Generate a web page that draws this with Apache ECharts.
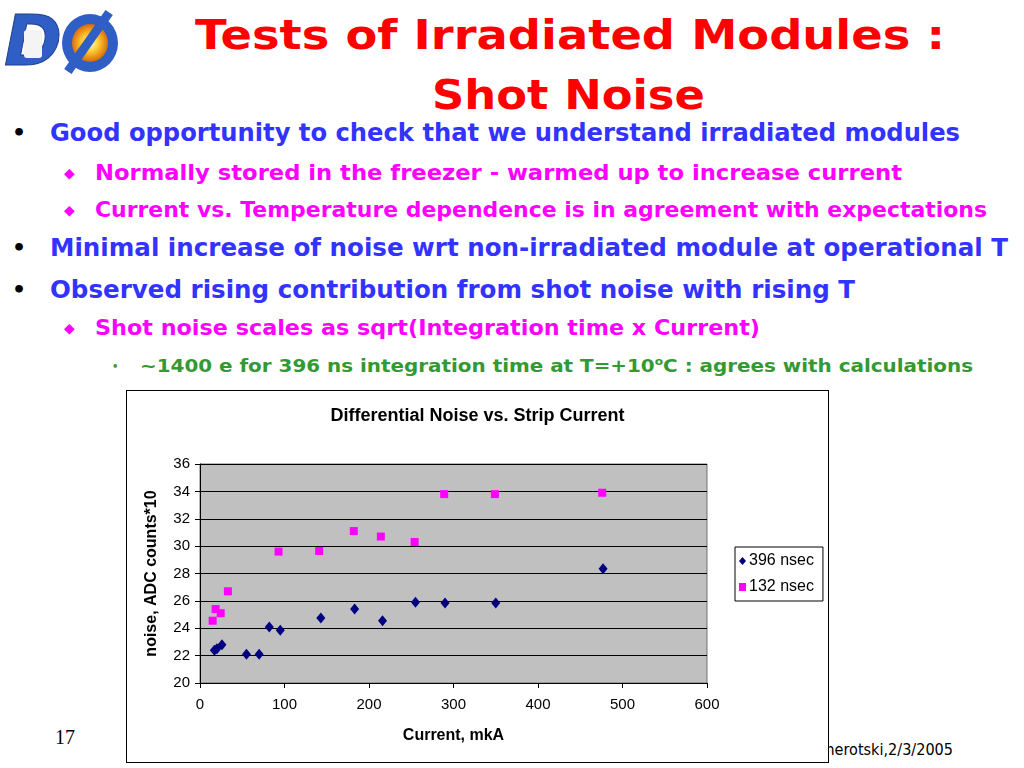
<!DOCTYPE html>
<html>
<head>
<meta charset="utf-8">
<script src="https://cdn.jsdelivr.net/npm/echarts@6/dist/echarts.min.js"></script>
<style>
html,body{margin:0;padding:0;background:#fff;}
body{width:1024px;height:768px;position:relative;overflow:hidden;font-family:"DejaVu Sans",sans-serif;}
.t{position:absolute;white-space:nowrap;font-weight:bold;transform-origin:0 50%;}
#chartBox{position:absolute;left:126px;top:390px;width:701px;height:371px;border:1px solid #000;background:#fff;z-index:5;}
#chart{width:701px;height:371px;}
#logo{position:absolute;left:4px;top:8px;width:120px;height:68px;}
</style>
</head>
<body>
<div id="logo">
  <div style="position:absolute;left:0;top:-2px;font:italic bold 70px 'DejaVu Sans',sans-serif;color:#2f5fc4;line-height:70px;-webkit-text-stroke:1px #1d3f8f;">D</div>
  <div style="position:absolute;left:58px;top:6px;width:56px;height:58px;border-radius:50%;border:10px solid #2f5fc4;box-sizing:border-box;background:radial-gradient(circle,#fffbe0 0%,#ffd23a 30%,#e07a10 65%,#7a2a00 100%);"></div>
  <div style="position:absolute;left:80px;top:-2px;width:9px;height:72px;background:#2f5fc4;transform:rotate(35deg);"></div>
  <div style="position:absolute;left:20px;top:22px;width:18px;height:28px;background:#f4f4f4;border-radius:3px;"></div>
</div>

<div class="t" data-w="750" style="left:195px;top:14px;font-size:40px;line-height:42px;color:#ff0000;">Tests of Irradiated Modules :</div>
<div class="t" data-w="273" style="left:432px;top:74px;font-size:40px;line-height:42px;color:#ff0000;">Shot Noise</div>

<div class="t" style="left:12px;top:121px;font-size:22px;line-height:24px;color:#000;">•</div>
<div class="t" data-w="910" style="left:50px;top:119px;font-size:25px;line-height:28px;color:#3333ff;">Good opportunity to check that we understand irradiated modules</div>

<div class="t" style="left:64px;top:163px;font-size:14px;line-height:20px;color:#ff00ff;">◆</div>
<div class="t" data-w="807" style="left:95px;top:161px;font-size:21px;line-height:24px;color:#ff00ff;">Normally stored in the freezer - warmed up to increase current</div>

<div class="t" style="left:64px;top:200px;font-size:14px;line-height:20px;color:#ff00ff;">◆</div>
<div class="t" data-w="892" style="left:95px;top:198px;font-size:21px;line-height:24px;color:#ff00ff;">Current vs. Temperature dependence is in agreement with expectations</div>

<div class="t" style="left:12px;top:236px;font-size:22px;line-height:24px;color:#000;">•</div>
<div class="t" data-w="958" style="left:50px;top:234px;font-size:25px;line-height:28px;color:#3333ff;">Minimal increase of noise wrt non-irradiated module at operational T</div>

<div class="t" style="left:12px;top:278px;font-size:22px;line-height:24px;color:#000;">•</div>
<div class="t" data-w="805" style="left:50px;top:276px;font-size:25px;line-height:28px;color:#3333ff;">Observed rising contribution from shot noise with rising T</div>

<div class="t" style="left:64px;top:318px;font-size:14px;line-height:20px;color:#ff00ff;">◆</div>
<div class="t" data-w="665" style="left:95px;top:316px;font-size:21px;line-height:24px;color:#ff00ff;">Shot noise scales as sqrt(Integration time x Current)</div>

<div class="t" style="left:112px;top:360px;font-size:10px;line-height:14px;color:#339933;">•</div>
<div class="t" data-w="833" style="left:140px;top:351px;font-size:18px;line-height:22px;color:#339933;">~1400 e for 396 ns integration time at T=+10<sup style="font-size:11px;">o</sup>C : agrees with calculations</div>

<div class="t" style="left:55px;top:725px;font:20px 'Liberation Serif',serif;line-height:24px;color:#000;">17</div>
<div class="t" data-w="171" style="left:782px;top:740px;font-size:15px;line-height:20px;color:#000;font-weight:normal;">A. Nomerotski,2/3/2005</div>

<div id="chartBox"><div id="chart"></div></div>

<script>
const chartTitle = 'Differential Noise vs. Strip Current';
const xAxisName = 'Current, mkA';
const yAxisName = 'noise, ADC counts*10';
const seriesNames = ['396 nsec', '132 nsec'];
const current396 = [17, 20, 26, 55, 70, 82, 95, 143, 183, 216, 255, 290, 350, 477];
const noise396   = [22.4, 22.5, 22.8, 22.1, 22.1, 24.1, 23.85, 24.75, 25.4, 24.55, 25.9, 25.85, 25.85, 28.35];
const current132 = [15, 18.5, 24.5, 33, 93, 141, 182, 214, 254, 289, 349, 476];
const noise132   = [24.55, 25.4, 25.1, 26.7, 29.6, 29.65, 31.1, 30.7, 30.3, 33.8, 33.8, 33.9];

function zip(a, b) { return a.map((v, i) => [v, b[i]]); }

// fit slide text widths
document.querySelectorAll('.t[data-w]').forEach(el => {
  const w = el.getBoundingClientRect().width;
  const target = +el.dataset.w;
  if (w > 0) el.style.transform = 'scaleX(' + (target / w) + ')';
});

const chart = echarts.init(document.getElementById('chart'), null, {renderer: 'canvas'});
const font = 'Liberation Sans, Arial, sans-serif';
chart.setOption({
  animation: false,
  title: {
    text: chartTitle, left: 'center', top: 11,
    textStyle: {fontFamily: font, fontSize: 18, fontWeight: 'bold', color: '#000'}
  },
  legend: {
    orient: 'vertical', left: 608, top: 156,
    borderColor: '#000', borderWidth: 1, padding: [6, 9, 6, 4],
    itemWidth: 7, itemHeight: 8, itemGap: 10,
    textStyle: {fontFamily: font, fontSize: 16, color: '#000', padding: [0, 0, 0, -2]},
    data: [{name: seriesNames[0], icon: 'diamond'}, {name: seriesNames[1], icon: 'rect'}]
  },
  grid: {
    left: 73, top: 73, width: 507, height: 219,
    show: true, backgroundColor: '#c0c0c0', borderColor: '#707070', borderWidth: 1
  },
  xAxis: {
    type: 'value', min: 0, max: 600, interval: 100,
    name: xAxisName, nameLocation: 'middle', nameGap: 45,
    nameTextStyle: {fontFamily: font, fontSize: 16, fontWeight: 'bold', color: '#000'},
    axisLine: {show: true, onZero: false, lineStyle: {color: '#000', width: 1}},
    axisTick: {show: true, inside: false, length: 5, lineStyle: {color: '#000'}},
    axisLabel: {fontFamily: font, fontSize: 15, color: '#000', margin: 14},
    splitLine: {show: false}
  },
  yAxis: {
    type: 'value', min: 20, max: 36, interval: 2,
    name: yAxisName, nameLocation: 'middle', nameGap: 40, nameRotate: 90,
    nameTextStyle: {fontFamily: font, fontSize: 16, fontWeight: 'bold', color: '#000'},
    axisLine: {show: true, onZero: false, lineStyle: {color: '#000', width: 1}},
    axisTick: {show: true, inside: false, length: 5, lineStyle: {color: '#000'}},
    axisLabel: {fontFamily: font, fontSize: 15, color: '#000', margin: 10},
    splitLine: {show: true, lineStyle: {color: '#000', width: 1}}
  },
  series: [
    {
      name: seriesNames[0], type: 'scatter', symbol: 'diamond', symbolSize: [9, 11],
      itemStyle: {color: '#000080', opacity: 1}, data: zip(current396, noise396), z: 3
    },
    {
      name: seriesNames[1], type: 'scatter', symbol: 'rect', symbolSize: 8,
      itemStyle: {color: '#ff00ff', opacity: 1}, data: zip(current132, noise132), z: 2
    }
  ]
});
</script>
</body>
</html>
